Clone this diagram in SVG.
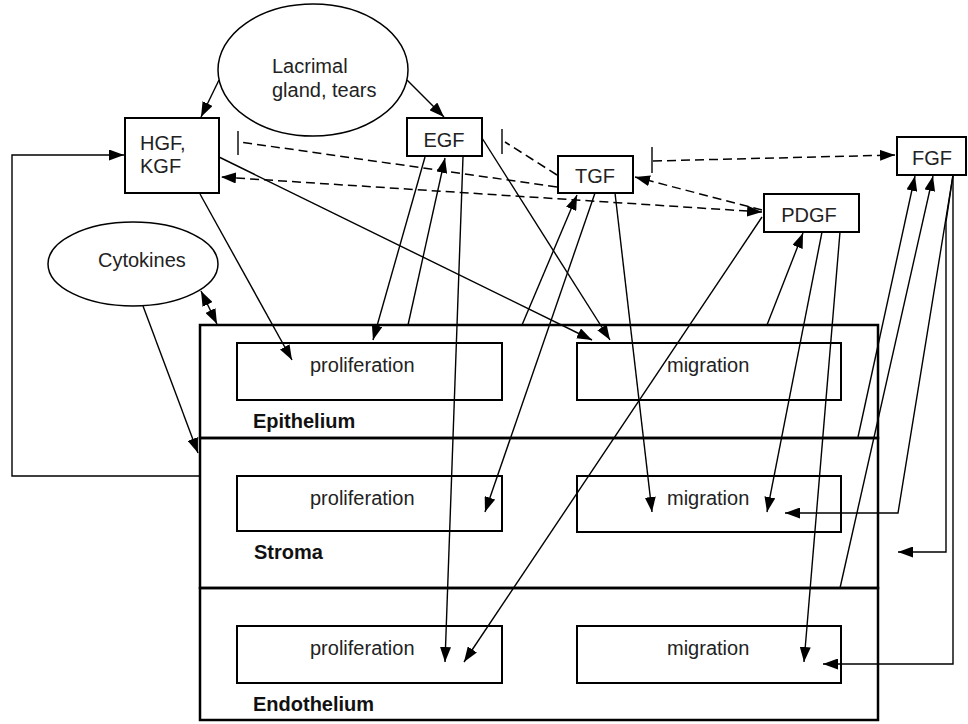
<svg xmlns="http://www.w3.org/2000/svg" width="968" height="724" viewBox="0 0 968 724">
<style>
.box{fill:#fff;stroke:#000;stroke-width:2}
.layer{fill:none;stroke:#000;stroke-width:2.5}
.ell{fill:#fff;stroke:#000;stroke-width:1.5}
.t{font-family:"Liberation Sans",Arial,sans-serif;font-size:20px;fill:#222}
.b{font-family:"Liberation Sans",Arial,sans-serif;font-size:20px;font-weight:bold;fill:#111}
.c{fill:none;stroke:#000;stroke-width:1.4}
.d{fill:none;stroke:#000;stroke-width:1.5;stroke-dasharray:9 5}
</style>
<defs>
<marker id="ah" viewBox="0 0 15 11" refX="15" refY="5.5" markerWidth="15" markerHeight="11" markerUnits="userSpaceOnUse" orient="auto-start-reverse">
<path d="M0,0 L15,5.5 L0,11 Z" fill="#000"/>
</marker>
</defs>
<rect width="968" height="724" fill="#fff"/>

<g id="layers">
<g id="epithelium">
<rect class="layer" x="200" y="325" width="678" height="113"/>
<text class="b" x="253" y="428">Epithelium</text>
</g>
<g id="stroma">
<rect class="layer" x="200" y="438" width="678" height="150"/>
<text class="b" x="254" y="559">Stroma</text>
</g>
<g id="endothelium">
<rect class="layer" x="200" y="588" width="678" height="132"/>
<text class="b" x="253" y="711">Endothelium</text>
</g>
</g>

<g id="epi-prolif"><rect class="box" x="237" y="343" width="265" height="57"/><text class="t" x="310" y="372">proliferation</text></g>
<g id="epi-migr"><rect class="box" x="577" y="343" width="264" height="57"/><text class="t" x="667" y="372">migration</text></g>
<g id="str-prolif"><rect class="box" x="237" y="476" width="265" height="55"/><text class="t" x="310" y="505">proliferation</text></g>
<g id="str-migr"><rect class="box" x="577" y="476" width="264" height="56"/><text class="t" x="667" y="505">migration</text></g>
<g id="end-prolif"><rect class="box" x="237" y="626" width="265" height="57"/><text class="t" x="310" y="655">proliferation</text></g>
<g id="end-migr"><rect class="box" x="577" y="626" width="264" height="57"/><text class="t" x="667" y="655">migration</text></g>

<g id="lacrimal"><ellipse class="ell" cx="313" cy="70" rx="95" ry="66"/><text class="t" x="272" y="73">Lacrimal</text><text class="t" x="272" y="97">gland, tears</text></g>
<g id="cytokines"><ellipse class="ell" cx="133" cy="264" rx="85" ry="42"/><text class="t" x="98" y="267">Cytokines</text></g>
<g id="hgf"><rect class="box" x="125" y="118" width="94" height="75"/><text class="t" x="140" y="150">HGF,</text><text class="t" x="140" y="173">KGF</text></g>
<g id="egf"><rect class="box" x="407" y="118" width="75" height="38"/><text class="t" x="444" y="147" text-anchor="middle">EGF</text></g>
<g id="tgf"><rect class="box" x="558" y="156" width="75" height="37"/><text class="t" x="595" y="183" text-anchor="middle">TGF</text></g>
<g id="pdgf"><rect class="box" x="764" y="194" width="95" height="38"/><text class="t" x="809" y="222" text-anchor="middle">PDGF</text></g>
<g id="fgf"><rect class="box" x="897" y="137" width="69" height="38"/><text class="t" x="932" y="165" text-anchor="middle">FGF</text></g>

<g id="connectors">
<line class="c" x1="219" y1="80" x2="201" y2="117" marker-end="url(#ah)"/>
<line class="c" x1="407" y1="80" x2="444" y2="117" marker-end="url(#ah)"/>
<polyline class="c" points="200,476 12,476 12,155 124,155" marker-end="url(#ah)"/>
<line class="c" x1="201" y1="291" x2="217" y2="324" marker-start="url(#ah)" marker-end="url(#ah)"/>
<line class="c" x1="143" y1="306" x2="198" y2="453" marker-end="url(#ah)"/>
<line class="c" x1="200" y1="194" x2="292" y2="360" marker-end="url(#ah)"/>
<line class="c" x1="219" y1="157" x2="592" y2="340" marker-end="url(#ah)"/>
<line class="c" x1="425" y1="157" x2="373" y2="340" marker-end="url(#ah)"/>
<line class="c" x1="408" y1="325" x2="445" y2="158" marker-end="url(#ah)"/>
<line class="c" x1="463" y1="157" x2="445" y2="662" marker-end="url(#ah)"/>
<line class="c" x1="482" y1="138" x2="610" y2="340" marker-end="url(#ah)"/>
<line class="c" x1="522" y1="325" x2="577" y2="195" marker-end="url(#ah)"/>
<line class="c" x1="595" y1="193" x2="485" y2="512" marker-end="url(#ah)"/>
<line class="c" x1="615" y1="193" x2="652" y2="512" marker-end="url(#ah)"/>
<line class="c" x1="762" y1="217" x2="464" y2="662" marker-end="url(#ah)"/>
<line class="c" x1="767" y1="325" x2="803" y2="233" marker-end="url(#ah)"/>
<line class="c" x1="822" y1="232" x2="767" y2="512" marker-end="url(#ah)"/>
<line class="c" x1="840" y1="232" x2="804" y2="662" marker-end="url(#ah)"/>
<line class="c" x1="858" y1="437" x2="915" y2="176" marker-end="url(#ah)"/>
<line class="c" x1="840" y1="588" x2="933" y2="176" marker-end="url(#ah)"/>
<polyline class="c" points="953,175 898,513 785,513" marker-end="url(#ah)"/>
<polyline class="c" points="953,175 946,222 946,552 898,552" marker-end="url(#ah)"/>
<polyline class="c" points="953,175 953,664 823,664" marker-end="url(#ah)"/>
<line class="d" x1="557" y1="187" x2="240" y2="142"/>
<line class="c" x1="238" y1="131" x2="238" y2="155"/>
<line class="d" x1="557" y1="175" x2="505" y2="142"/>
<line class="c" x1="502" y1="129" x2="502" y2="154"/>
<line class="d" x1="762" y1="212" x2="221" y2="177" marker-start="url(#ah)" marker-end="url(#ah)"/>
<line class="d" x1="762" y1="210" x2="635" y2="177" marker-end="url(#ah)"/>
<line class="d" x1="653" y1="161" x2="895" y2="155" marker-end="url(#ah)"/>
<line class="c" x1="652" y1="147" x2="652" y2="173"/>
</g>
</svg>
